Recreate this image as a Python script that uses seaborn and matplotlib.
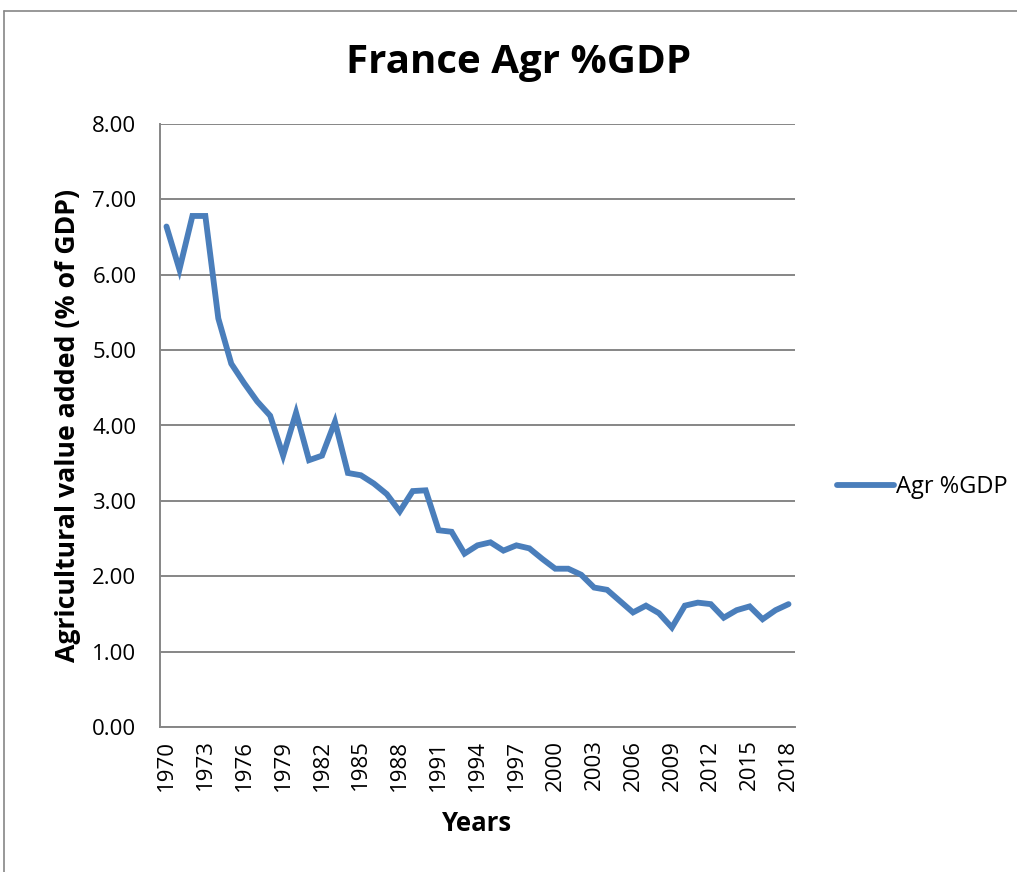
import numpy as np
import pandas as pd
import matplotlib
matplotlib.use('Agg')
import matplotlib.pyplot as plt
from matplotlib.lines import Line2D
from matplotlib.ticker import FormatStrFormatter
import seaborn as sns

years = list(range(1970, 2019))
agr_gdp = [6.64, 6.07, 6.78, 6.78, 5.42, 4.82, 4.56, 4.32, 4.13, 3.60,
           4.17, 3.54, 3.60, 4.05, 3.37, 3.34, 3.23, 3.09, 2.86, 3.13,
           3.14, 2.61, 2.59, 2.30, 2.41, 2.45, 2.34, 2.41, 2.37, 2.23,
           2.10, 2.10, 2.02, 1.85, 1.82, 1.67, 1.52, 1.61, 1.51, 1.32,
           1.61, 1.65, 1.63, 1.45, 1.55, 1.60, 1.43, 1.55, 1.63]

data = pd.DataFrame({'Years': years, 'Agr %GDP': agr_gdp})

sns.set_theme(style='white')
plt.rcParams['font.family'] = ['Open Sans', 'DejaVu Sans']
plt.rcParams['text.color'] = 'black'
plt.rcParams['axes.labelcolor'] = 'black'

fig = plt.figure(figsize=(10.17, 8.72), dpi=100)
ax = fig.add_axes([160/1017, 1-727/872, 635/1017, 603/872])

sns.lineplot(data=data, x='Years', y='Agr %GDP', ax=ax, color='#4A7EBB',
             linewidth=4.2, label='Agr %GDP', solid_joinstyle='miter')

grid_c = '#868686'
ax.set_xlim(1969.5, 2018.5)
ax.set_ylim(0, 8)
ax.set_yticks(np.arange(0, 9, 1))
ax.yaxis.set_major_formatter(FormatStrFormatter('%.2f'))
ax.yaxis.grid(True, color=grid_c, linewidth=1.4)
ax.set_axisbelow(True)

ax.set_xticks(years[::3])
ax.set_xticks(np.arange(1969.5, 2019, 1), minor=True)
ax.tick_params(axis='x', which='major', length=0, labelsize=16, rotation=90, pad=9, colors='black')
ax.tick_params(axis='x', which='minor', length=5, width=1.2, color=grid_c, direction='out')
ax.tick_params(axis='y', which='major', length=5, width=1.2, color=grid_c, direction='out', labelsize=16, pad=12)
ax.tick_params(axis='y', labelcolor='black')

for s in ['top', 'right']:
    ax.spines[s].set_visible(False)
for s in ['left', 'bottom']:
    ax.spines[s].set_color(grid_c)
    ax.spines[s].set_linewidth(1.4)

ax.set_xlabel('Years', fontsize=18.5, fontweight='bold', labelpad=14)
ax.set_ylabel('Agricultural value added (% of GDP)', fontsize=19.2, fontweight='bold', labelpad=8)
fig.text(519/1017, 1-62/872, 'France Agr %GDP', fontsize=29, fontweight='bold',
         ha='center', va='center')

leg = ax.legend(loc='center left', bbox_to_anchor=(1.033, 0.398), frameon=False,
                fontsize=17, handlelength=2.4, handletextpad=0.1)

fig.add_artist(Line2D([4/1017, 4/1017], [0, 1-11/872], color=grid_c, linewidth=1.2, transform=fig.transFigure))
fig.add_artist(Line2D([4/1017, 1], [1-11/872, 1-11/872], color=grid_c, linewidth=1.2, transform=fig.transFigure))

fig.savefig('out.png', dpi=100, facecolor='white')
